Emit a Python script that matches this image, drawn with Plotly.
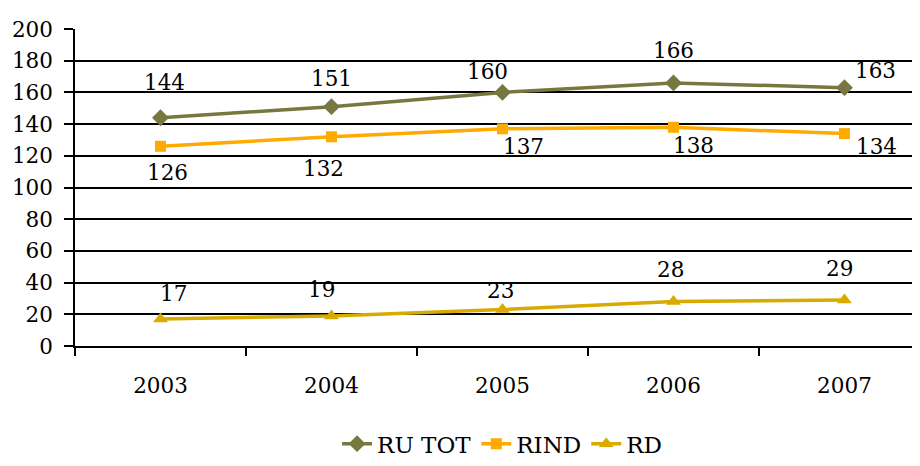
import plotly.graph_objects as go

years = ["2003", "2004", "2005", "2006", "2007"]
ru_tot = [144, 151, 160, 166, 163]
rind = [126, 132, 137, 138, 134]
rd = [17, 19, 23, 28, 29]
y_ticks = [0, 20, 40, 60, 80, 100, 120, 140, 160, 180, 200]

FONT = "DejaVu Serif"
FS = 21.5

series = [
    ("RU TOT", ru_tot, "#77773f", "diamond", 13),
    ("RIND", rind, "#ffaa00", "square", 11),
    ("RD", rd, "#d9aa00", "triangle-up", 13),
]

# label offsets in pixels (dx, dy up)
offsets = {
    "RU TOT": [(4, 35), (0, 28), (-15, 21), (0, 32), (31, 17)],
    "RIND": [(7, -26), (-8, -32), (21, -18), (20, -18), (32, -13)],
    "RD": [(13, 26), (-10, 26), (-2, 19), (-3, 32), (-5, 32)],
}

fig = go.Figure()
annotations = []
for name, vals, color, sym, msize in series:
    fig.add_trace(go.Scatter(
        x=years, y=vals, name=name, mode="lines+markers",
        line=dict(color=color, width=3.5),
        marker=dict(symbol=sym, size=msize, color=color),
    ))
    for i, yv in enumerate(vals):
        dx, dy = offsets[name][i]
        annotations.append(dict(
            x=i, y=yv, xref="x", yref="y", text=str(yv), showarrow=False,
            xshift=dx, yshift=dy, font=dict(family=FONT, size=FS, color="black"),
        ))

fig.update_layout(
    width=912, height=458,
    margin=dict(l=67, r=1, t=21, b=120, autoexpand=False),
    paper_bgcolor="white", plot_bgcolor="white",
    font=dict(family=FONT, size=FS, color="black"),
    annotations=annotations,
    showlegend=True,
    legend=dict(orientation="h", x=0.506, xanchor="center", y=-0.376, yanchor="bottom",
                font=dict(family=FONT, size=23, color="black"),
                tracegroupgap=0),
)
fig.update_xaxes(
    type="category", range=[-0.5, 4.436], automargin=False,
    tickson="boundaries", ticks="outside", ticklen=8, tickwidth=1.5, tickcolor="black",
    showline=True, linecolor="black", linewidth=1.5,
    showgrid=False, zeroline=False,
    ticklabelstandoff=19,
    tickfont=dict(family=FONT, size=FS, color="black"),
)
fig.update_yaxes(
    range=[0, 200], tickvals=y_ticks, automargin=False,
    ticks="outside", ticklen=9, tickwidth=1.5, tickcolor="black",
    showline=True, linecolor="black", linewidth=1.5,
    showgrid=True, gridcolor="black", gridwidth=1.5, zeroline=False,
    ticklabelstandoff=7,
    tickfont=dict(family=FONT, size=FS, color="black"),
)

fig.write_html("out.html")
